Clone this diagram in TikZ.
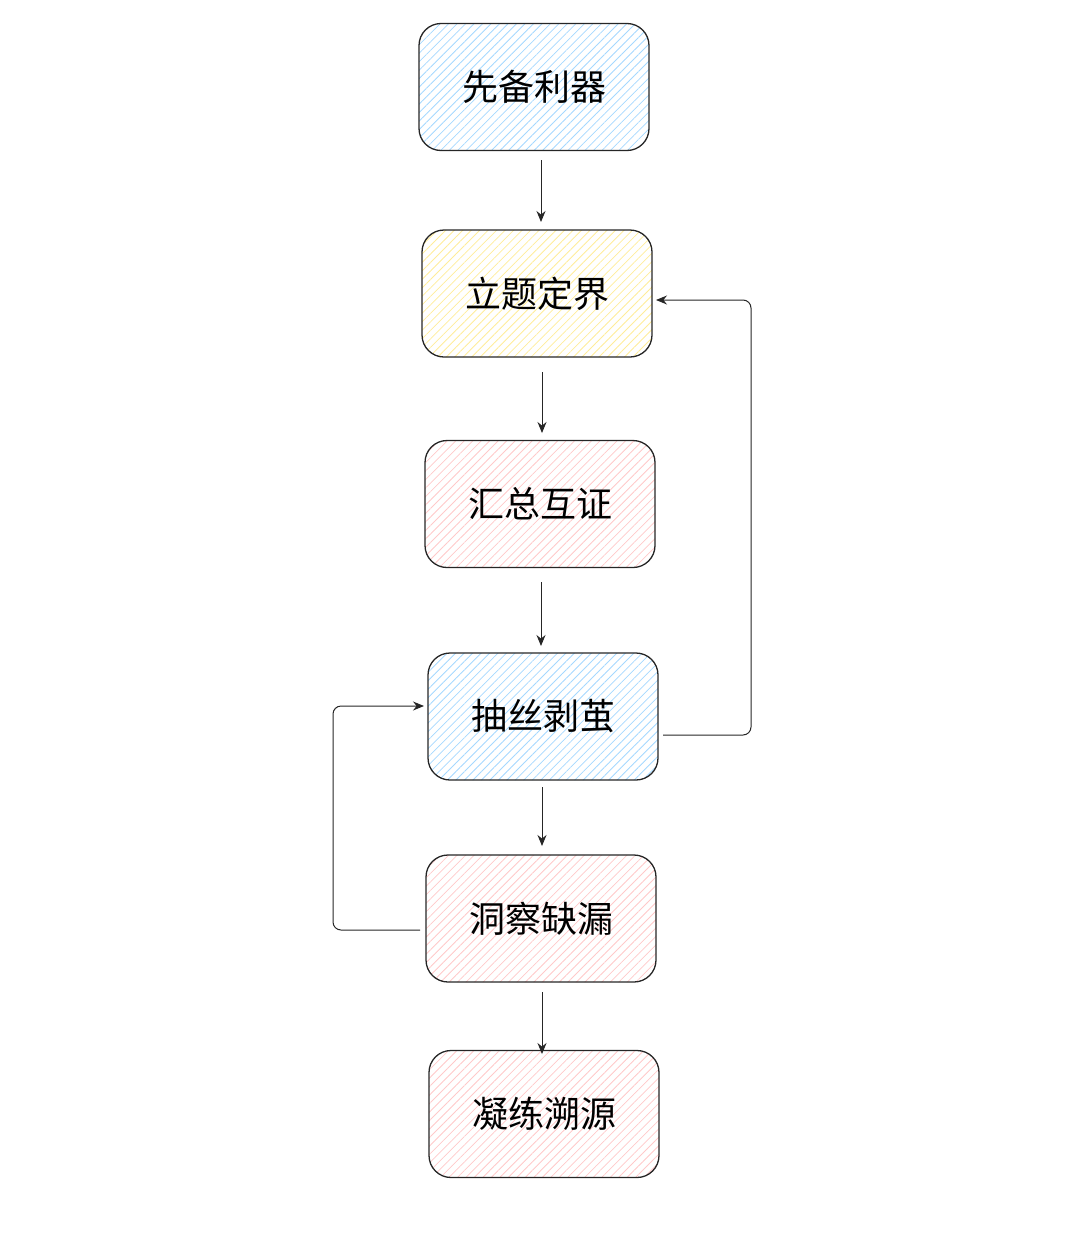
\documentclass[tikz,border=0pt]{standalone}
\usepackage{fontspec}
\newfontfamily\cjk{Noto Sans CJK SC}
\usetikzlibrary{patterns.meta,arrows.meta}
\definecolor{hb}{HTML}{A5D8FF}
\definecolor{hy}{HTML}{FFEC99}
\definecolor{hr}{HTML}{FFC9C9}
\begin{document}
\begin{tikzpicture}[x=1pt,y=-1pt,
 box/.style={draw=black!85,line width=1.3pt,rounded corners=22pt,minimum width=230pt,minimum height=127pt,font=\cjk\fontsize{36}{40}\selectfont},
 bb/.style={box,pattern={Lines[angle=45,distance=6pt,line width=0.8pt]},pattern color=hb},
 by/.style={box,pattern={Lines[angle=45,distance=6pt,line width=0.8pt]},pattern color=hy},
 br/.style={box,pattern={Lines[angle=45,distance=6pt,line width=0.8pt]},pattern color=hr},
 arr/.style={draw=black!85,line width=1pt,-{Stealth[length=11pt,width=9pt]}}]
\useasboundingbox (0,0) rectangle (1080,1253);
\node[bb] (a) at (534,87) {先备利器};
\node[by] (b) at (537,293.5) {立题定界};
\node[br] (c) at (540,504) {汇总互证};
\node[bb] (d) at (543,716.5) {抽丝剥茧};
\node[br] (e) at (541,918.5) {洞察缺漏};
\node[br] (f) at (544,1114) {凝练溯源};
\coordinate (a1) at (541,160); \coordinate (b0) at (541,222);
\coordinate (b1) at (542,372); \coordinate (c0) at (542,433);
\coordinate (c1) at (541,582); \coordinate (d0) at (541,646);
\coordinate (d1) at (542,787); \coordinate (e0) at (542,846);
\coordinate (e1) at (542,992); \coordinate (f0) at (542,1054);
\draw[arr] (a1) -- (b0);
\draw[arr] (b1) -- (c0);
\draw[arr] (c1) -- (d0);
\draw[arr] (d1) -- (e0);
\draw[arr] (e1) -- (f0);
\coordinate (d2) at (663,735); \coordinate (b2) at (656,300);
\draw[arr,rounded corners=8pt] (d2) -- (751,735) -- (751,300) -- (b2);
\coordinate (e2) at (420,930); \coordinate (d3) at (424,706);
\draw[arr,rounded corners=8pt] (e2) -- (333,930) -- (333,706) -- (d3);
\end{tikzpicture}
\end{document}
